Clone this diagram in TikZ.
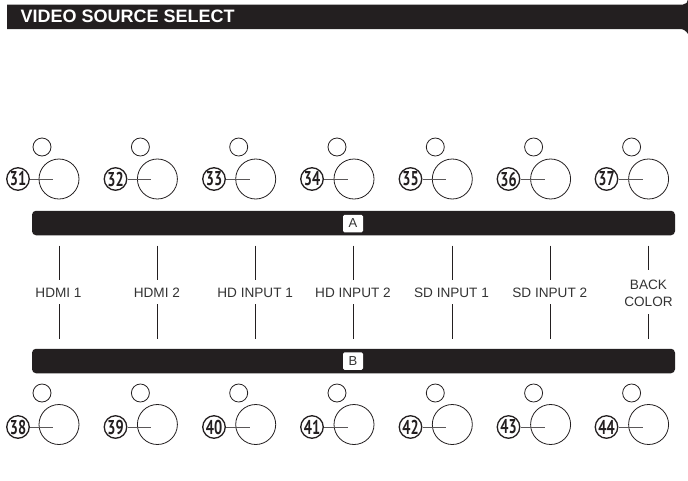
\documentclass[tikz,border=0pt]{standalone}
\usepackage{fontspec}
\setmainfont{Liberation Sans}
\newfontfamily\numfont{PT Sans}
\definecolor{barblack}{HTML}{231F20}
\definecolor{labelgray}{HTML}{333333}
\tikzset{
  bigknob/.style={draw=barblack,line width=0.8pt,circle,minimum size=40pt,inner sep=0pt},
  lamp/.style={draw=barblack,line width=0.8pt,circle,minimum size=18pt,inner sep=0pt},
  numbadge/.style={draw=barblack,line width=1.3pt,circle,minimum size=22.5pt,inner sep=0pt,outer sep=1pt,font=\numfont\bfseries\fontsize{20}{20}\selectfont,text=barblack},
  leader/.style={draw=barblack!75,line width=0.9pt},
  divider/.style={draw=barblack,line width=1pt},
  sourcelabel/.style={font=\fontsize{13.6}{17}\selectfont,text=labelgray,align=center,inner sep=0pt},
  barbox/.style={fill=barblack,rounded corners=4pt,minimum width=643pt,minimum height=24.5pt,inner sep=0pt},
  tagbox/.style={fill=white,rounded corners=1.5pt,minimum width=20pt,minimum height=17.5pt,inner sep=0pt,font=\fontsize{13}{13}\selectfont,text=labelgray}
}
\newcommand{\badgetext}[1]{\scalebox{0.72}[1]{#1}}
\begin{document}
\begin{tikzpicture}[x=1pt,y=-1pt]
\useasboundingbox (0,0) rectangle (688,480);
% header
\fill[barblack] (7,4.5) -- (683,4.5) arc[start angle=90,end angle=0,radius=5] -- (688,34)
  .. controls (686,31) and (684,29) .. (680,29) -- (7,29) -- cycle;
\node[anchor=west,inner sep=0pt,text=white,font=\bfseries\fontsize{18}{18}\selectfont] (title) at (20.5,16.5) {VIDEO SOURCE SELECT};
% bars
\node[barbox] (barA) at (353.5,223) {};
\node[barbox] (barB) at (353.5,361) {};
\node[tagbox] (tagA) at (353,223.5) {A};
\node[tagbox] (tagB) at (353,361) {B};
% upper row
\foreach \n/\kx/\bx in {31/59/18,32/157.4/115.5,33/255.7/214,34/354/312,35/452.3/410.5,36/550.6/508.5,37/648.6/606.5}{
  \node[bigknob] (k\n) at (\kx,179) {};
  \node[lamp] (l\n) at (\kx-17,147) {};
  \node[numbadge] (b\n) at (\bx,179) {\badgetext{\n}};
  \coordinate (e\n) at (\kx-6,179);
  \draw[leader] (b\n) -- (e\n);
}
% lower row
\foreach \n/\kx/\bx in {38/59/18,39/157.4/115.5,40/255.7/214,41/354/312,42/452.3/410.5,43/550.6/508.5,44/648.6/606.5}{
  \node[bigknob] (k\n) at (\kx,424.5) {};
  \node[lamp] (l\n) at (\kx-17,393) {};
  \node[numbadge] (b\n) at (\bx,427) {\badgetext{\n}};
  \coordinate (e\n) at (\kx-6,427);
  \draw[leader] (b\n) -- (e\n);
}
% source labels with dividers
\foreach \i/\x/\t in {1/59/HDMI 1,2/157.4/HDMI 2,3/255.7/HD INPUT 1,4/353.5/HD INPUT 2,5/452/SD INPUT 1,6/550.3/SD INPUT 2}{
  \node[sourcelabel] (s\i) at (\x-0.5,293) {\t};
  \coordinate (ua\i) at (\x,245.5);
  \coordinate (ub\i) at (\x,280);
  \coordinate (la\i) at (\x,304);
  \coordinate (lb\i) at (\x,339);
  \draw[divider] (ua\i) -- (ub\i);
  \draw[divider] (la\i) -- (lb\i);
}
\node[sourcelabel] (s7) at (648.5,293.5) {BACK\\COLOR};
\coordinate (ua7) at (648.5,245.5);
\coordinate (ub7) at (648.5,270);
\coordinate (la7) at (648.5,314);
\coordinate (lb7) at (648.5,339);
\draw[divider] (ua7) -- (ub7);
\draw[divider] (la7) -- (lb7);
\end{tikzpicture}
\end{document}
